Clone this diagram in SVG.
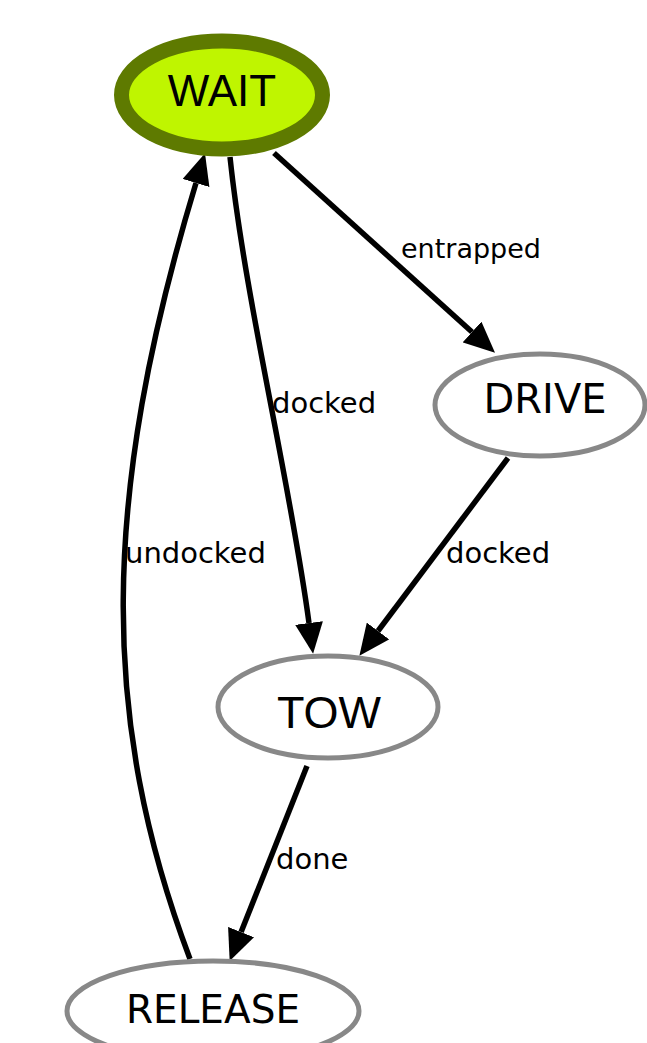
<svg xmlns="http://www.w3.org/2000/svg" width="647" height="1043" viewBox="0 0 647 1043">
<style>
.node{fill:#ffffff;stroke:#888888;stroke-width:5}
.wait{fill:#bff500;stroke:#5e7a00;stroke-width:15}
.nl{font-family:"Liberation Sans",Arial,sans-serif;fill:#000;text-anchor:middle}
.nd{font-family:"DejaVu Sans",sans-serif;fill:#000;text-anchor:middle}
.edge{fill:none;stroke:#000;stroke-width:5.5}
.el{font-family:"DejaVu Sans",sans-serif;font-size:29px;fill:#000}
</style>
<defs>
<marker id="ah" markerUnits="userSpaceOnUse" markerWidth="31" markerHeight="28" viewBox="0 0 31 28" refX="0" refY="14" orient="auto">
<path d="M0,0 L31,14 L0,28 z" fill="#000"/>
</marker>
</defs>
<g id="edges">
<path class="edge" d="M274,153 L472,332" marker-end="url(#ah)"/>
<text class="el" x="401" y="258" style="font-size:27px">entrapped</text>
<path class="edge" d="M230,157 C245,300 290,480 309,623" marker-end="url(#ah)"/>
<text class="el" x="272" y="413">docked</text>
<path class="edge" d="M508,458 L378,631" marker-end="url(#ah)"/>
<text class="el" x="446" y="563">docked</text>
<path class="edge" d="M307,766 L241.1,932.1" marker-end="url(#ah)"/>
<text class="el" x="276" y="869">done</text>
<path class="edge" d="M190,959 C100,720 100,500 196,183" marker-end="url(#ah)"/>
<text class="el" x="125" y="563">undocked</text>
</g>
<g id="WAIT">
<ellipse class="wait" cx="222" cy="95" rx="100.5" ry="54"/>
<text class="nl" x="222" y="106" font-size="44">WAIT</text>
</g>
<g id="DRIVE">
<ellipse class="node" cx="540" cy="405" rx="105" ry="51"/>
<text class="nd" x="545" y="413" font-size="40">DRIVE</text>
</g>
<g id="TOW">
<ellipse class="node" cx="328" cy="707" rx="110" ry="51"/>
<text class="nl" x="329" y="728" font-size="45">TOW</text>
</g>
<g id="RELEASE">
<ellipse class="node" cx="213" cy="1011" rx="146" ry="50"/>
<text class="nd" x="213" y="1023" font-size="39">RELEASE</text>
</g>
</svg>
